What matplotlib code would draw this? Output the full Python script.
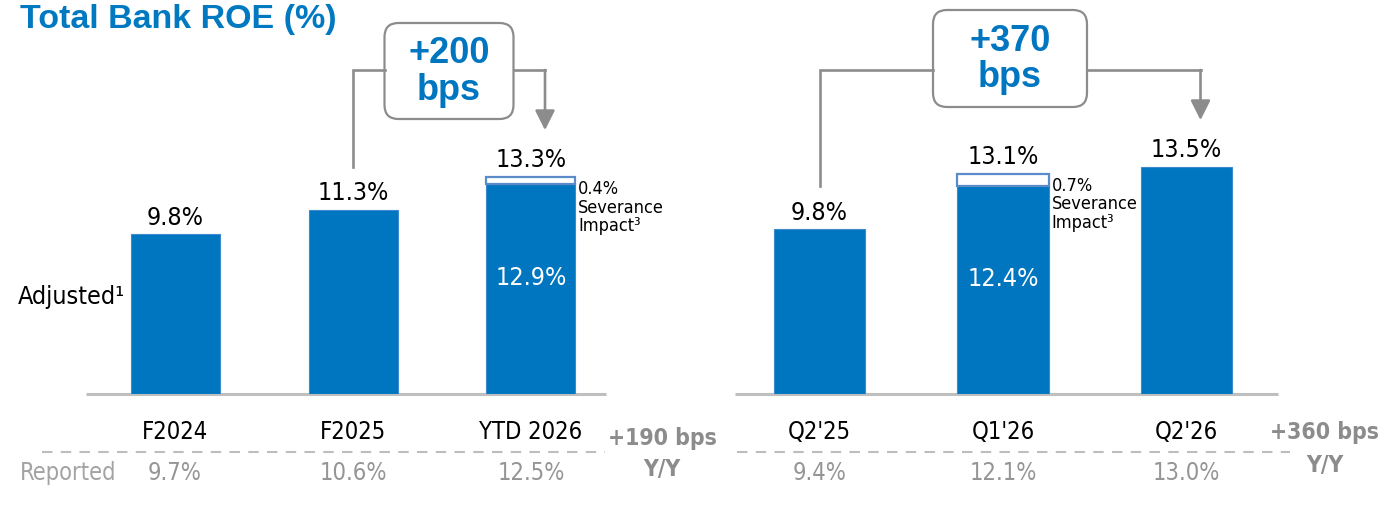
import matplotlib
matplotlib.use("Agg")
import matplotlib.pyplot as plt
from matplotlib import transforms
from matplotlib.patches import FancyBboxPatch

W, H = 1383, 513

annual_labels = ["F2024", "F2025", "YTD 2026"]
annual_adjusted = [9.8, 11.3, 12.9]
annual_severance = [0.0, 0.0, 0.4]
annual_reported = [9.7, 10.6, 12.5]

quarter_labels = ["Q2'25", "Q1'26", "Q2'26"]
quarter_adjusted = [9.8, 12.4, 13.5]
quarter_severance = [0.0, 0.7, 0.0]
quarter_reported = [9.4, 12.1, 13.0]

BLUE = "#0076C0"
TITLE_BLUE = "#0079C1"
EDGE_BLUE = "#5B8BC9"
GREY_LINE = "#8C8C8C"
GREY_TEXT = "#959595"
NARROW = dict(family="DejaVu Sans", stretch="condensed")
BOLD = ["Liberation Sans", "DejaVu Sans"]

fig = plt.figure(figsize=(W / 100, H / 100), dpi=100)

# overlay in pixel units for the free-standing text and connectors
ov = fig.add_axes([0, 0, 1, 1], zorder=5)
ov.set_xlim(0, W)
ov.set_ylim(H, 0)
ov.axis("off")

BASE_PX = 394


def panel_axes(px_left, px_right, centre0, step, px_per_pct):
    ax = fig.add_axes([px_left / W, (H - BASE_PX) / H,
                       (px_right - px_left) / W, BASE_PX / H])
    ax.set_xlim((px_left - centre0) / step, (px_right - centre0) / step)
    ax.set_ylim(0, BASE_PX / px_per_pct)
    ax.axis("off")
    return ax


def to_px(ax, x, y):
    return ov.transData.inverted().transform(ax.transData.transform((x, y)))


def draw_panel(ax, labels, adjusted, severance, reported, base_span,
               dash_span, move, box, yoy_xy):
    xs = range(len(labels))
    totals = [a + s for a, s in zip(adjusted, severance)]
    ax.bar(xs, adjusted, width=0.5, color=BLUE, edgecolor="#3C8ACB",
           linewidth=0.8, zorder=2)
    ax.bar(xs, severance, bottom=adjusted, width=0.5, color="white",
           edgecolor=[EDGE_BLUE if s > 0 else "none" for s in severance],
           linewidth=1.6, zorder=2)
    ax.plot(base_span, [0, 0], color="#BFBFBF", lw=2.2, zorder=1,
            solid_capstyle="butt", clip_on=False)

    for x, a, s, t in zip(xs, adjusted, severance, totals):
        ax.annotate(f"{t:.1f}%", (x, t), xytext=(0, 7), textcoords="offset points",
                    ha="center", va="baseline", fontsize=18, **NARROW)
        if s > 0:
            ax.text(x, a * 0.55, f"{a:.1f}%", ha="center", va="center",
                    fontsize=18, color="white", **NARROW)
            ax.annotate(f"{s:.1f}%\nSeverance\nImpact\u00b3", (x + 0.25, t),
                        xytext=(2, -2), textcoords="offset points",
                        ha="left", va="top", fontsize=13, linespacing=1.05,
                        **NARROW)

    blend = transforms.blended_transform_factory(ax.transData, ov.transData)
    for x, lab, rep in zip(xs, labels, reported):
        ax.text(x, 432, lab, transform=blend, ha="center", va="center",
                fontsize=17, **NARROW)
        ax.text(x, 473, f"{rep:.1f}%", transform=blend, ha="center",
                va="center", fontsize=17, color=GREY_TEXT, **NARROW)

    ov.plot(dash_span, [452, 452], color="#BDBDBD", lw=1.5, dashes=(5, 4))
    i0, i1 = move
    yoy = round((reported[i1] - reported[i1 - 1 if i0 else i0]) * 100)
    ov.text(yoy_xy[0], yoy_xy[1], f"+{yoy} bps", ha="center", va="center",
            fontsize=16.5, fontweight="bold", color=GREY_LINE, **NARROW)
    ov.text(yoy_xy[0], yoy_xy[1] + 32, "Y/Y", ha="center", va="center",
            fontsize=16.5, fontweight="bold", color=GREY_LINE, **NARROW)

    # bracket from one bar to another with the change in a rounded box
    level = 70
    x0, top0 = to_px(ax, i0, totals[i0])
    x1, top1 = to_px(ax, i1, totals[i1])
    x1 += 14
    bw, btop, bbot = box
    cx = (x0 + x1) / 2
    ov.plot([x0, x0, cx - bw / 2], [top0 - 43, level, level],
            color=GREY_LINE, lw=1.9, solid_joinstyle="miter")
    ov.plot([cx + bw / 2, x1], [level, level], color=GREY_LINE, lw=1.9)
    ov.annotate("", xy=(x1, top1 - 47), xytext=(x1, level),
                arrowprops=dict(arrowstyle="-|>,head_length=0.6,head_width=0.3",
                                color=GREY_LINE, lw=1.9, mutation_scale=20,
                                shrinkA=0, shrinkB=0))
    ov.add_patch(FancyBboxPatch((cx - bw / 2, btop), bw, bbot - btop,
                                boxstyle="round,pad=0,rounding_size=14",
                                facecolor="white", edgecolor=GREY_LINE, lw=1.6))
    change = round((totals[i1] - totals[i0]) * 100)
    ov.text(cx, (btop + bbot) / 2 + 1, f"+{change}\nbps", ha="center",
            va="center", fontsize=26, fontweight="bold", color=BLUE,
            family=BOLD, linespacing=1.05)


left = panel_axes(60, 625, 175, 178, 16.3)
right = panel_axes(720, 1300, 819.5, 183.5, 16.8)

draw_panel(left, annual_labels, annual_adjusted, annual_severance,
           annual_reported, [-0.5, 2.42], [42, 605], (1, 2), (129, 23, 119),
           (662, 438))
draw_panel(right, quarter_labels, quarter_adjusted, quarter_severance,
           quarter_reported, [-0.46, 2.5], [737, 1290], (0, 2), (154, 10, 107),
           (1325, 433))

ov.text(20, 28, "Total Bank ROE (%)", ha="left", va="baseline", fontsize=24.5,
        fontweight="bold", color=TITLE_BLUE, family=BOLD)
ov.text(18, 297, "Adjusted\u00b9", ha="left", va="center", fontsize=18,
        **NARROW)
ov.text(20, 473, "Reported", ha="left", va="center", fontsize=17,
        color="#A3A3A3", **NARROW)

fig.savefig("out.png", dpi=100)
